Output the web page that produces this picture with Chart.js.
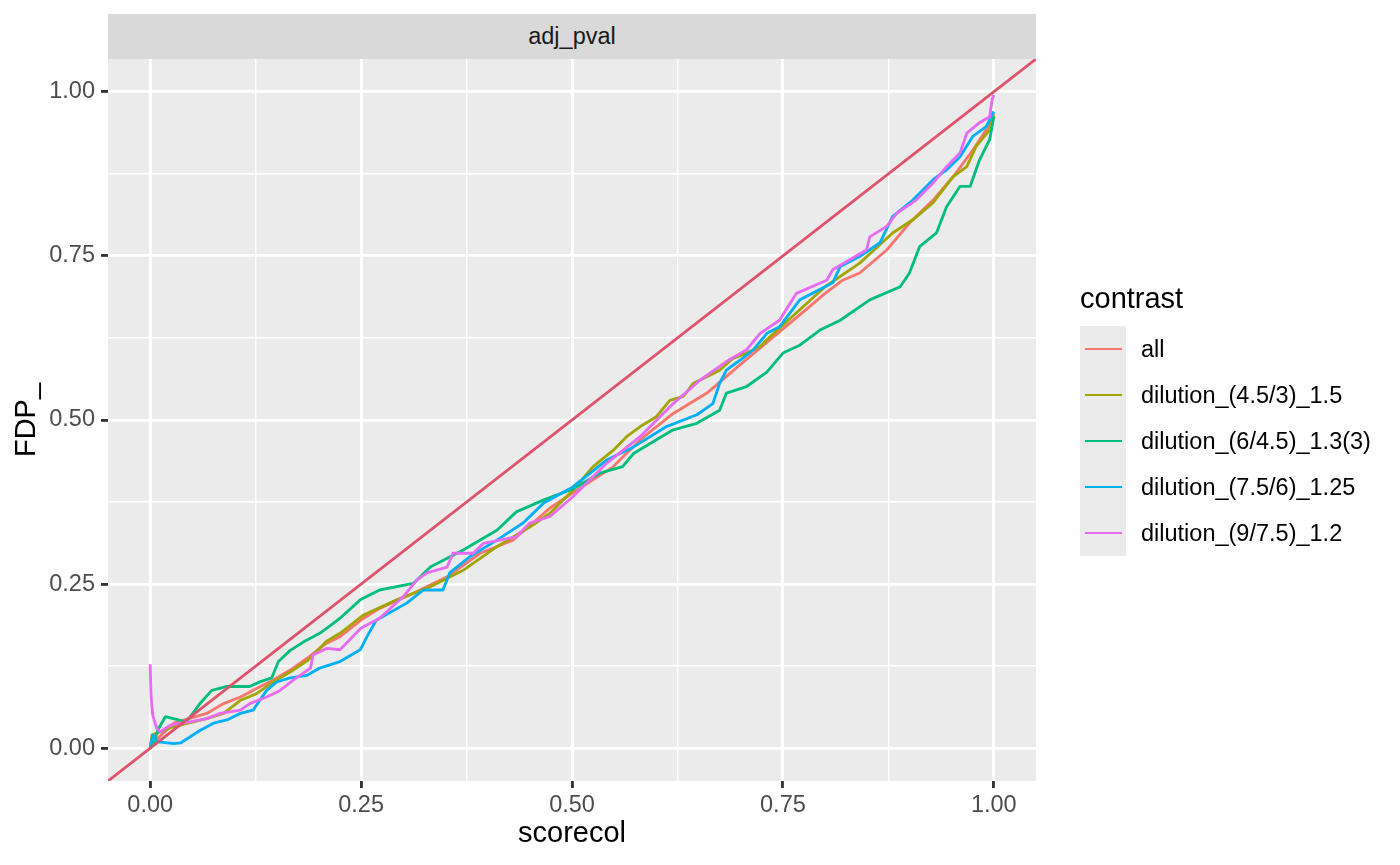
<!DOCTYPE html>
<html>
<head>
<meta charset="utf-8">
<script src="https://cdn.jsdelivr.net/npm/chart.js@4"></script>
<style>
  body { margin: 0; background: #fff; font-family: "Liberation Sans", Arial, Helvetica, sans-serif; }
  #wrap { position: relative; width: 1400px; height: 865px; }
  #c { position: absolute; left: 0; top: 0; }
  .strip { position: absolute; left: 108px; top: 14px; width: 928px; height: 45px; background: #D9D9D9;
           color: #1A1A1A; font-size: 23.5px; line-height: 45px; text-align: center; }
  .ltitle { position: absolute; left: 1080px; top: 280px; font-size: 29px; line-height: 36px; color: #000; }
  .keys { position: absolute; left: 1080px; top: 326px; width: 46px; background: #EBEBEB; }
  .key { position: relative; height: 46px; }
  .key span { position: absolute; left: 5px; right: 4px; top: 21.6px; height: 2.85px; }
  .lab { position: absolute; left: 1141px; font-size: 23.5px; line-height: 46px; color: #000; white-space: nowrap; }
</style>
</head>
<body>
<div id="wrap">
  <canvas id="c" width="1400" height="865"></canvas>
  <div class="strip">adj_pval</div>
  <div class="ltitle">contrast</div>
  <div class="keys" id="keys"></div>
  <div id="labs"></div>
</div>
<script>
// series
const xAll = [0, 0.005, 0.028, 0.067, 0.087, 0.107, 0.126, 0.146, 0.166, 0.186, 0.209, 0.225, 0.253, 0.272, 0.312, 0.352, 0.391, 0.43, 0.474, 0.501, 0.549, 0.581, 0.62, 0.66, 0.699, 0.742, 0.782, 0.8, 0.821, 0.841, 0.873, 0.9, 0.928, 0.952, 0.975, 0.991, 1.0];
const yAll = [0, 0.01, 0.038, 0.053, 0.068, 0.078, 0.091, 0.104, 0.119, 0.137, 0.16, 0.17, 0.198, 0.213, 0.236, 0.261, 0.297, 0.317, 0.366, 0.389, 0.429, 0.47, 0.51, 0.541, 0.584, 0.63, 0.673, 0.693, 0.713, 0.724, 0.759, 0.8, 0.835, 0.871, 0.911, 0.942, 0.968];

const xD45 = [0, 0.002, 0.028, 0.067, 0.087, 0.107, 0.126, 0.146, 0.166, 0.186, 0.209, 0.225, 0.253, 0.292, 0.332, 0.371, 0.411, 0.45, 0.474, 0.501, 0.525, 0.549, 0.565, 0.581, 0.6, 0.616, 0.632, 0.644, 0.66, 0.675, 0.691, 0.707, 0.723, 0.735, 0.77, 0.8, 0.841, 0.88, 0.904, 0.928, 0.952, 0.968, 0.979, 0.995, 1.0];
const yD45 = [0, 0.02, 0.033, 0.045, 0.053, 0.073, 0.083, 0.101, 0.116, 0.133, 0.163, 0.175, 0.203, 0.226, 0.246, 0.271, 0.307, 0.337, 0.358, 0.393, 0.429, 0.454, 0.475, 0.49, 0.505, 0.53, 0.536, 0.556, 0.566, 0.576, 0.594, 0.602, 0.612, 0.627, 0.668, 0.703, 0.739, 0.785, 0.805, 0.831, 0.871, 0.886, 0.917, 0.942, 0.965];

const xD6 = [0, 0.003, 0.01, 0.018, 0.043, 0.059, 0.073, 0.091, 0.118, 0.13, 0.144, 0.152, 0.166, 0.182, 0.201, 0.217, 0.225, 0.249, 0.272, 0.312, 0.332, 0.371, 0.411, 0.434, 0.466, 0.501, 0.533, 0.56, 0.573, 0.6, 0.62, 0.648, 0.675, 0.683, 0.707, 0.731, 0.75, 0.77, 0.794, 0.818, 0.853, 0.889, 0.9, 0.912, 0.932, 0.944, 0.96, 0.972, 0.983, 0.995, 1.0];
const yD6 = [0, 0.005, 0.03, 0.048, 0.04, 0.068, 0.088, 0.094, 0.094, 0.101, 0.107, 0.132, 0.149, 0.162, 0.175, 0.19, 0.198, 0.226, 0.241, 0.251, 0.276, 0.302, 0.332, 0.36, 0.378, 0.395, 0.419, 0.429, 0.449, 0.47, 0.485, 0.495, 0.515, 0.541, 0.551, 0.573, 0.602, 0.614, 0.637, 0.652, 0.683, 0.703, 0.724, 0.764, 0.785, 0.825, 0.856, 0.856, 0.896, 0.927, 0.962];

const xD75 = [0, 0.003, 0.008, 0.028, 0.036, 0.047, 0.059, 0.075, 0.091, 0.107, 0.122, 0.13, 0.138, 0.15, 0.166, 0.186, 0.201, 0.225, 0.249, 0.257, 0.268, 0.304, 0.324, 0.347, 0.355, 0.379, 0.411, 0.442, 0.466, 0.501, 0.541, 0.573, 0.612, 0.648, 0.667, 0.675, 0.683, 0.699, 0.715, 0.731, 0.746, 0.77, 0.809, 0.818, 0.841, 0.865, 0.88, 0.904, 0.928, 0.944, 0.96, 0.975, 0.991, 1.0];
const yD75 = [0, 0.02, 0.01, 0.007, 0.008, 0.017, 0.027, 0.038, 0.043, 0.053, 0.058, 0.073, 0.088, 0.101, 0.107, 0.111, 0.122, 0.132, 0.15, 0.17, 0.195, 0.221, 0.241, 0.241, 0.267, 0.292, 0.317, 0.343, 0.373, 0.398, 0.439, 0.459, 0.49, 0.508, 0.525, 0.556, 0.576, 0.591, 0.607, 0.632, 0.642, 0.683, 0.709, 0.734, 0.749, 0.77, 0.81, 0.835, 0.866, 0.881, 0.901, 0.932, 0.947, 0.97];

const xD9 = [0, 0.001, 0.003, 0.008, 0.012, 0.024, 0.036, 0.047, 0.067, 0.083, 0.107, 0.118, 0.138, 0.154, 0.17, 0.19, 0.193, 0.209, 0.225, 0.25, 0.272, 0.3, 0.316, 0.328, 0.352, 0.359, 0.383, 0.395, 0.434, 0.45, 0.474, 0.501, 0.541, 0.581, 0.62, 0.652, 0.683, 0.707, 0.723, 0.746, 0.766, 0.802, 0.809, 0.829, 0.849, 0.853, 0.873, 0.885, 0.908, 0.928, 0.944, 0.96, 0.968, 0.983, 0.995, 0.998, 1.0];
const yD9 = [0.128, 0.08, 0.05, 0.03, 0.025, 0.035, 0.038, 0.04, 0.045, 0.053, 0.058, 0.068, 0.078, 0.088, 0.104, 0.122, 0.142, 0.152, 0.15, 0.183, 0.198, 0.231, 0.256, 0.267, 0.276, 0.297, 0.297, 0.312, 0.322, 0.343, 0.353, 0.383, 0.434, 0.475, 0.525, 0.561, 0.589, 0.607, 0.632, 0.652, 0.693, 0.713, 0.729, 0.744, 0.759, 0.779, 0.795, 0.815, 0.835, 0.861, 0.886, 0.907, 0.937, 0.953, 0.962, 0.988, 0.995];

const refX = [-0.05, 1.05];
const refY = [-0.05, 1.05];

const seriesNames = ['all', 'dilution_(4.5/3)_1.5', 'dilution_(6/4.5)_1.3(3)', 'dilution_(7.5/6)_1.25', 'dilution_(9/7.5)_1.2'];
const seriesColors = ['#F8766D', '#A3A500', '#00BF7D', '#00B0F6', '#E76BF3'];
const seriesX = [xAll, xD45, xD6, xD75, xD9];
const seriesY = [yAll, yD45, yD6, yD75, yD9];

const majorTicks = [0, 0.25, 0.5, 0.75, 1];
const tickLabels = ['0.00', '0.25', '0.50', '0.75', '1.00'];

const pts = (xs, ys) => xs.map((x, i) => ({ x, y: ys[i] }));
const majorIdx = v => majorTicks.findIndex(m => Math.abs(m - v) < 1e-6);

// legend
const keys = document.getElementById('keys');
const labs = document.getElementById('labs');
seriesNames.forEach((name, i) => {
  const k = document.createElement('div');
  k.className = 'key';
  k.innerHTML = '<span style="background:' + seriesColors[i] + '"></span>';
  keys.appendChild(k);
  const l = document.createElement('div');
  l.className = 'lab';
  l.style.top = (326 + i * 46) + 'px';
  l.textContent = name;
  labs.appendChild(l);
});

const panelBg = {
  id: 'panelBg',
  beforeDraw(chart) {
    const { ctx, chartArea: a } = chart;
    ctx.save();
    ctx.fillStyle = '#EBEBEB';
    ctx.fillRect(a.left, a.top, a.right - a.left, a.bottom - a.top);
    ctx.restore();
  }
};

// ggplot draws groups in order, abline last -> Chart.js draws dataset 0 on top
const datasets = [{
  data: pts(refX, refY), borderColor: '#DF536B', borderWidth: 2.85
}];
for (let i = seriesNames.length - 1; i >= 0; i--) {
  datasets.push({ label: seriesNames[i], data: pts(seriesX[i], seriesY[i]), borderColor: seriesColors[i], borderWidth: 2.85 });
}

const axis = (title, isX) => ({
  type: 'linear',
  min: -0.05,
  max: 1.05,
  afterFit(s) { if (isX) s.height = 84; else s.width = 108; },
  afterBuildTicks(s) {
    s.ticks = [0, 0.125, 0.25, 0.375, 0.5, 0.625, 0.75, 0.875, 1].map(v => ({ value: v }));
  },
  border: { display: false },
  grid: {
    color: '#FFFFFF',
    lineWidth: c => majorIdx(c.tick.value) >= 0 ? 2.85 : 1.42,
    tickColor: c => majorIdx(c.tick.value) >= 0 ? '#333333' : 'rgba(0,0,0,0)',
    tickWidth: 2.85,
    tickLength: 7
  },
  ticks: {
    autoSkip: false,
    maxRotation: 0,
    padding: isX ? 3 : 6,
    color: '#4D4D4D',
    font: { size: 23.5, family: '"Liberation Sans", Arial, sans-serif' },
    callback: v => { const j = majorIdx(v); return j >= 0 ? tickLabels[j] : ''; }
  },
  title: {
    display: true,
    text: title,
    color: '#000',
    font: { size: 29, family: '"Liberation Sans", Arial, sans-serif' },
    padding: isX ? { top: 0, bottom: 14 } : { top: 10, bottom: 0 }
  }
});

new Chart(document.getElementById('c'), {
  type: 'scatter',
  data: { datasets },
  options: {
    responsive: false,
    animation: false,
    devicePixelRatio: 1,
    showLine: true,
    layout: { padding: { left: 0, top: 59, right: 364, bottom: 0 } },
    elements: { point: { radius: 0 }, line: { tension: 0, borderJoinStyle: 'round', borderCapStyle: 'butt' } },
    scales: { x: axis('scorecol', true), y: axis('FDP_', false) },
    plugins: { legend: { display: false }, tooltip: { enabled: false } }
  },
  plugins: [panelBg]
});
</script>
</body>
</html>
